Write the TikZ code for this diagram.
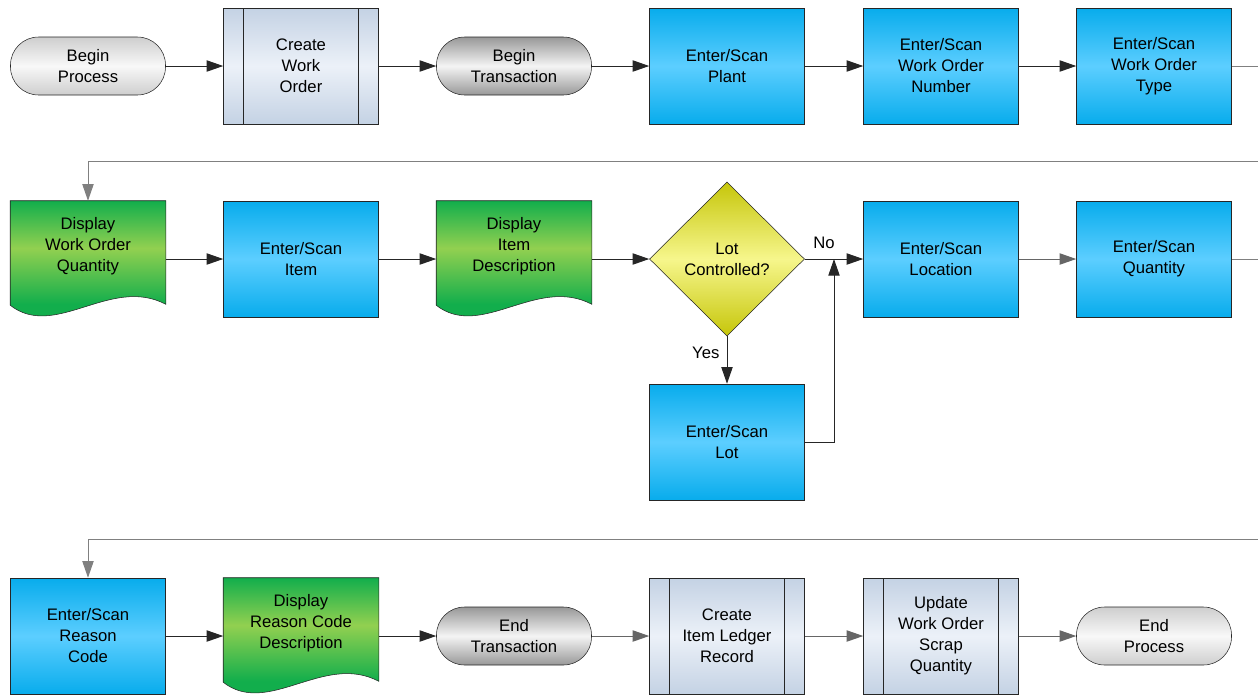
\documentclass[tikz,border=0pt]{standalone}
\usepackage{fontspec}
\setmainfont{Liberation Sans}
\usetikzlibrary{shapes.geometric,arrows.meta,backgrounds,calc}

\definecolor{procdark}{RGB}{8,172,236}
\definecolor{proclight}{RGB}{92,206,255}
\definecolor{docdark}{RGB}{18,174,76}
\definecolor{doclight}{RGB}{146,208,80}
\definecolor{decdark}{RGB}{198,198,10}
\definecolor{declight}{RGB}{246,246,140}
\definecolor{subdark}{RGB}{196,210,228}
\definecolor{sublight}{RGB}{236,241,248}
\definecolor{termdark}{RGB}{206,206,206}
\definecolor{termlight}{RGB}{248,248,248}
\definecolor{trandark}{RGB}{152,152,152}
\definecolor{tranlight}{RGB}{244,244,244}

\pgfdeclareverticalshading{docfade}{100bp}{color(0bp)=(docdark); color(38bp)=(docdark);
  color(58bp)=(doclight); color(75bp)=(docdark); color(100bp)=(docdark)}

\tikzset{
  every node/.style={font=\fontsize{12.5}{15.75}\selectfont, align=center, text=black},
  box/.style={rectangle, draw=black!85, minimum width=116.25pt, minimum height=87pt, inner sep=0pt},
  proc/.style={box, top color=procdark, bottom color=procdark, middle color=proclight},
  predef/.style={box, top color=subdark, bottom color=subdark, middle color=sublight,
    path picture={
      \draw [black!85] ([xshift=15pt]path picture bounding box.north west) -- ([xshift=15pt]path picture bounding box.south west)
        ([xshift=-15pt]path picture bounding box.north east) -- ([xshift=-15pt]path picture bounding box.south east);}},
  term/.style={rectangle, rounded corners=21pt, draw=black!85, minimum width=116.25pt, minimum height=43.5pt, inner sep=0pt,
    top color=termdark, bottom color=termdark, middle color=termlight},
  tran/.style={term, top color=trandark, bottom color=trandark, middle color=tranlight},
  docnode/.style={rectangle, minimum width=116.25pt, minimum height=87pt, inner sep=0pt, text depth=22pt},
  docshade/.style={draw=black!85, shading=docfade},
  decision/.style={diamond, aspect=1, draw=black!85, minimum width=116.25pt, minimum height=115.5pt, inner sep=0pt,
    top color=decdark, bottom color=decdark, middle color=declight},
  flow/.style={draw=black!85, line width=0.75pt, -{Triangle[length=12.5pt,width=8.5pt]}},
  soft/.style={flow, draw=black!60},
  wrap/.style={flow, draw=black!50}
}

\begin{document}
\begin{tikzpicture}[x=0.75pt,y=-0.75pt]
\useasboundingbox (0,0) rectangle (1258,694);
\clip (0,0) rectangle (1258,694);

% first row
\node [term] (bp) at (88,66) {Begin\\Process};
\node [predef] (cwo) at (301,66) {Create\\Work\\Order};
\node [tran] (bt) at (514,66) {Begin\\Transaction};
\node [proc] (plant) at (727,66) {Enter/Scan\\Plant};
\node [proc] (won) at (941,66) {Enter/Scan\\Work Order\\Number};
\node [proc] (wot) at (1154,66) {Enter/Scan\\Work Order\\Type};

\draw [flow] (bp) -- (cwo);
\draw [flow] (cwo) -- (bt);
\draw [flow] (bt) -- (plant);
\draw [flow] (plant) -- (won);
\draw [flow] (won) -- (wot);

% second row
\node [docnode] (dwoq) at (88,259) {Display\\Work Order\\Quantity};
\node [proc] (item) at (301,259) {Enter/Scan\\Item};
\node [docnode] (did) at (514,259) {Display\\Item\\Description};
\node [decision] (ctrl) at (727,259) {Lot\\Controlled?};
\node [proc] (loc) at (941,259) {Enter/Scan\\Location};
\node [proc] (qty) at (1154,259) {Enter/Scan\\Quantity};
\node [proc] (lot) at (727,442) {Enter/Scan\\Lot};
\coordinate (merge) at ($(ctrl.east)!0.5!(loc.west)$);

\draw [wrap] (wot.east) -- ++(40,0) |- ([yshift=29.25pt]dwoq.north) -- (dwoq.north);
\draw [flow] (dwoq) -- (item);
\draw [flow] (item) -- (did);
\draw [flow] (did) -- (ctrl);
\draw [flow] (ctrl) -- node [pos=0.33, above, yshift=4pt] {No} (loc);
\draw [flow] (ctrl) -- node [pos=0.35, left, xshift=-2pt] {Yes} (lot);
\draw [flow] (lot.east) -| (merge);
\draw [soft] (loc) -- (qty);

% third row
\node [proc] (rc) at (88,636) {Enter/Scan\\Reason\\Code};
\node [docnode] (drcd) at (301,636) {Display\\Reason Code\\Description};
\node [tran] (et) at (514,636) {End\\Transaction};
\node [predef] (cilr) at (727,636) {Create\\Item Ledger\\Record};
\node [predef] (uwo) at (941,636) {Update\\Work Order\\Scrap\\Quantity};
\node [term] (ep) at (1154,636) {End\\Process};

\draw [wrap] (qty.east) -- ++(40,0) |- ([yshift=28.5pt]rc.north) -- (rc.north);
\draw [flow] (rc) -- (drcd);
\draw [flow] (drcd) -- (et);
\draw [soft] (et) -- (cilr);
\draw [soft] (cilr) -- (uwo);
\draw [soft] (uwo) -- (ep);

% document shapes behind their text
\begin{scope}[on background layer]
\foreach \d in {dwoq,did,drcd}
  \shade [docshade] (\d.north west) -- (\d.north east) -- ($(\d.south east)+(0,-13)$)
    .. controls ($(\d.south east)+(-55,-42)$) and ($(\d.south west)+(45,23)$) .. ($(\d.south west)+(0,-12)$) -- cycle;
\end{scope}
\end{tikzpicture}
\end{document}
